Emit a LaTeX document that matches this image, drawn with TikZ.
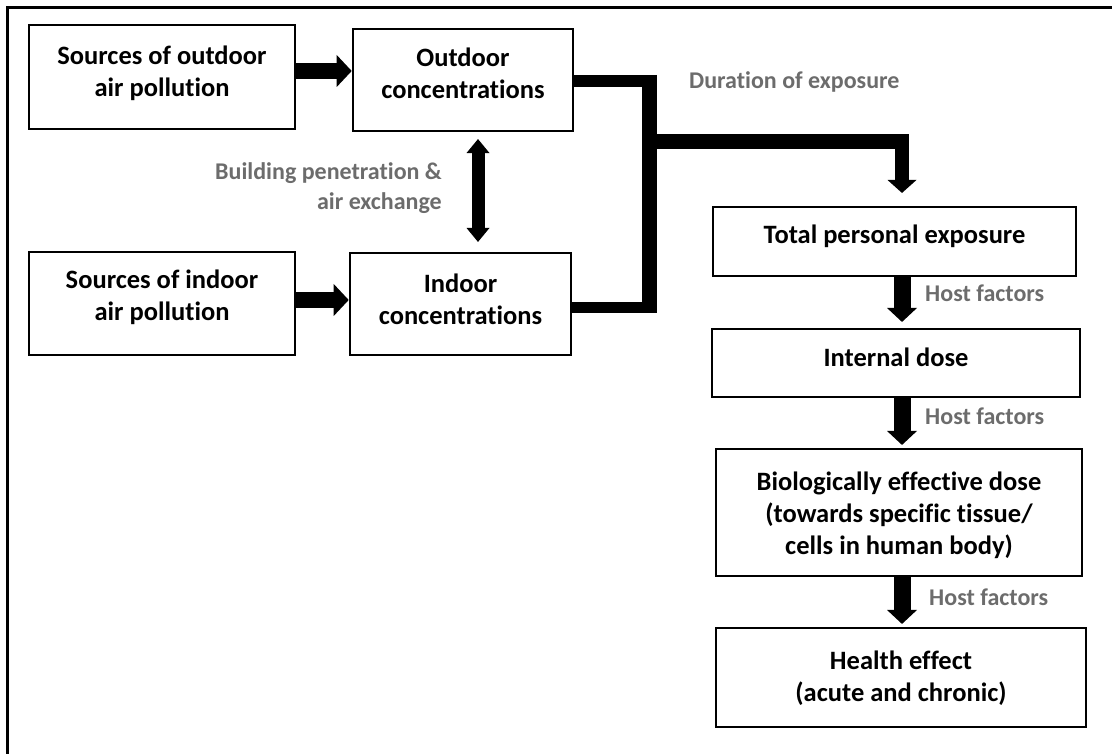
\documentclass[tikz,border=0pt]{standalone}
\usepackage{fontspec}
\setmainfont{Carlito}[Ligatures=NoCommon]
\usetikzlibrary{arrows.meta}
\definecolor{labelgray}{RGB}{108,108,108}
\begin{document}
\begin{tikzpicture}[x=1pt,y=-1pt,
  box/.style={draw, line width=2.6pt, inner sep=0pt},
  boxtext/.style={font=\fontsize{26.5}{32}\selectfont\bfseries, align=center, inner sep=0pt},
  note/.style={font=\fontsize{24}{29.5}\selectfont\bfseries, text=labelgray, inner sep=0pt},
  bus/.style={draw, line cap=butt, line join=miter},
  fat/.style={line width=16pt, -{Triangle[length=15pt,width=32pt,line width=0pt]}},
  hostarrow/.style={line width=17pt, -{Triangle[length=14pt,width=30pt,line width=0pt]}},
  dbl/.style={line width=13pt, {Triangle[length=14pt,width=23pt,line width=0pt]}-{Triangle[length=14pt,width=23pt,line width=0pt]}}]
\useasboundingbox (0,0) rectangle (1112,754);

% outer frame (top and left edges)
\draw[line width=3pt] (7,770) -- (7,8) -- (1130,8);

% boxes
\node[box, minimum width=266pt, minimum height=104pt,
  label={[boxtext, yshift=4pt]center:Sources of outdoor\\air pollution}] (src1) at (162,77) {};
\node[box, minimum width=220pt, minimum height=102pt,
  label={[boxtext, yshift=6.5pt]center:Outdoor\\concentrations}] (out) at (463,80) {};
\node[box, minimum width=266pt, minimum height=103pt,
  label={[boxtext, yshift=6pt]center:Sources of indoor\\air pollution}] (src2) at (162,303.5) {};
\node[box, minimum width=221pt, minimum height=102pt,
  label={[boxtext, yshift=5pt]center:Indoor\\concentrations}] (ind) at (460.5,304) {};
\node[box, minimum width=363pt, minimum height=69pt,
  label={[boxtext, yshift=5pt]center:Total personal exposure}] (tot) at (894.5,241.5) {};
\node[box, minimum width=368pt, minimum height=68pt,
  label={[boxtext, yshift=6pt]center:Internal dose}] (intd) at (896,363) {};
\node[box, minimum width=366pt, minimum height=127pt,
  label={[boxtext, yshift=-2.5pt]center:Biologically effective dose\\(towards specific tissue/\\cells in human body)}] (bio) at (899,512.5) {};
\node[box, minimum width=370pt, minimum height=99pt,
  label={[boxtext, yshift=-1pt]center:Health effect\\(acute and chronic)}] (hea) at (901,677.5) {};

% labels
\node[note, anchor=west] (dur) at (689,82) {Duration of exposure};
\node[note, align=right, anchor=east] (bld) at (442,188) {Building penetration \&\\air exchange};
\node[note, anchor=west] (hf1) at (925,293) {Host factors};
\node[note, anchor=west] (hf2) at (925,416) {Host factors};
\node[note, anchor=west] (hf3) at (929,597) {Host factors};

% source arrows
\draw[fat] ([yshift=6pt]src1.east) -- ([yshift=6pt]src1.east -| out.west);
\draw[fat] ([yshift=3.5pt]src2.east) -- ([yshift=3.5pt]src2.east -| ind.west);

% exchange between outdoor and indoor air
\draw[dbl, shorten <=6.75pt, shorten >=9.75pt]
  ([xshift=15pt]out.south) -- ([xshift=15pt]out.south |- ind.north);

% collecting bus towards personal exposure
\coordinate (busT) at (649.5,75);
\coordinate (busB) at (649.5,311);
\coordinate (busR) at (657,0);
\coordinate (jn) at (649.5,141.5);
\draw[bus, line width=15pt] (busT) -- (busB);
\draw[bus, line width=12pt] ([yshift=-1pt]out.east) -- ([yshift=-1pt]out.east -| busR);
\draw[bus, line width=11pt] ([yshift=-3.5pt]ind.east) -- ([yshift=-3.5pt]ind.east -| busR);
\draw[bus, line width=14.5pt, -{Triangle[length=13pt,width=29pt,line width=0pt]}, shorten >=12.75pt]
  (jn) -| ([xshift=7.5pt]tot.north);

% host factor arrows
\draw[hostarrow, shorten >=5.75pt] ([xshift=7.5pt]tot.south) -- ([xshift=7.5pt]tot.south |- intd.north);
\draw[hostarrow, shorten >=2.75pt] ([xshift=6pt]intd.south) -- ([xshift=6pt]intd.south |- bio.north);
\draw[hostarrow, shorten >=2.75pt] ([xshift=3pt]bio.south) -- ([xshift=3pt]bio.south |- hea.north);
\end{tikzpicture}
\end{document}
